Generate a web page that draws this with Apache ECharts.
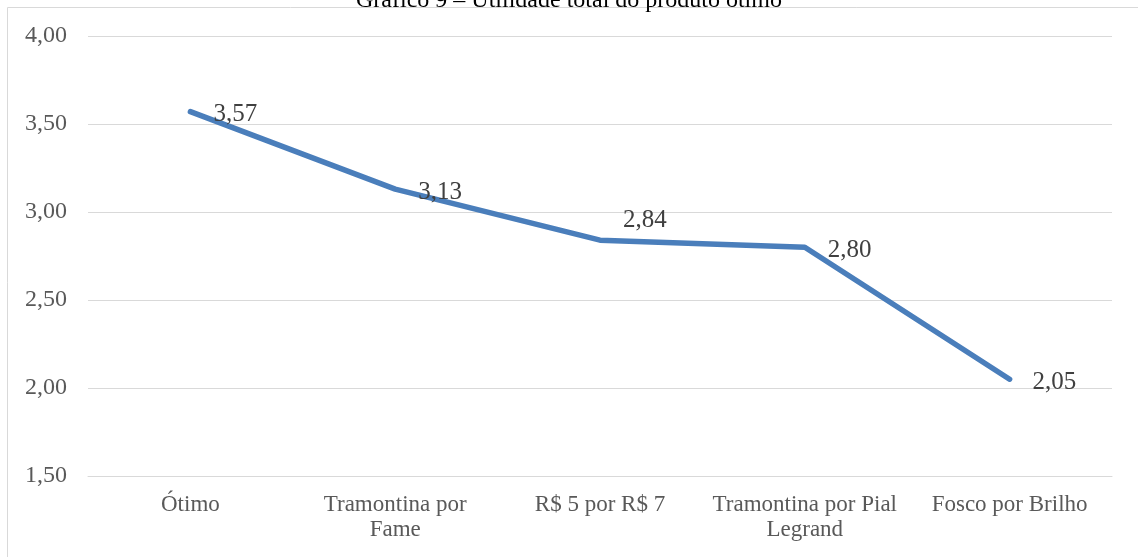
<!DOCTYPE html>
<html>
<head>
<meta charset="utf-8">
<script src="https://cdn.jsdelivr.net/npm/echarts@6/dist/echarts.min.js"></script>
<style>
html, body { margin: 0; padding: 0; background: #fff; }
#chart { width: 1138px; height: 557px; }
</style>
</head>
<body>
<div id="chart"></div>
<script>
// dados do gráfico
var categorias = ['Ótimo', 'Tramontina por\nFame', 'R$ 5 por R$ 7', 'Tramontina por Pial\nLegrand', 'Fosco por Brilho'];
var valores = [3.57, 3.13, 2.84, 2.80, 2.05];
var ticksY = [1.5, 2.0, 2.5, 3.0, 3.5, 4.0];

var fonte = 'Liberation Serif, Times New Roman, serif';

function virgula(v, casas) {
	return v.toFixed(casas).replace('.', ',');
}

var chart = echarts.init(document.getElementById('chart'));

var seriesData = valores.map(function(v, i) {
	var item = { value: v };
	// 2,84 fica acima da linha
	if (i === 2) {
		item.label = { offset: [0, -20] };
	}
	return item;
});

var option = {
	animation: false,
	title: {
		text: 'Gráfico 9 – Utilidade total do produto ótimo',
		left: 'center',
		top: -16,
		textStyle: {
			fontFamily: fonte,
			fontSize: 24,
			fontWeight: 'normal',
			color: '#000'
		}
	},
	graphic: [{
		type: 'rect',
		shape: { x: 7.5, y: 7.5, width: 1200, height: 600 },
		style: { fill: 'none', stroke: '#d9d9d9', lineWidth: 1 },
		z: -1
	}],
	grid: {
		left: 88,
		right: 26,
		top: 36,
		bottom: 81
	},
	xAxis: {
		type: 'category',
		data: categorias,
		boundaryGap: true,
		axisLine: { show: true, lineStyle: { color: '#d9d9d9', width: 1 } },
		axisTick: { show: false },
		axisLabel: {
			margin: 16,
			interval: 0,
			fontFamily: fonte,
			fontSize: 23,
			lineHeight: 25,
			color: '#595959'
		}
	},
	yAxis: {
		type: 'value',
		min: ticksY[0],
		max: ticksY[ticksY.length - 1],
		interval: 0.5,
		axisLine: { show: false },
		axisTick: { show: false },
		splitLine: { lineStyle: { color: '#d9d9d9', width: 1 } },
		axisLabel: {
			margin: 21,
			fontFamily: fonte,
			fontSize: 24,
			color: '#595959',
			formatter: function(v) { return virgula(v, 2); }
		}
	},
	series: [{
		type: 'line',
		data: seriesData,
		symbol: 'circle',
		symbolSize: 0,
		showSymbol: true,
		smooth: false,
		itemStyle: { color: '#4a7ebb' },
		lineStyle: { color: '#4a7ebb', width: 5.5, cap: 'round', join: 'round' },
		label: {
			show: true,
			position: 'right',
			distance: 23,
			offset: [0, 3],
			fontFamily: fonte,
			fontSize: 25,
			color: '#404040',
			formatter: function(p) { return virgula(p.value, 2); }
		}
	}]
};

chart.setOption(option);
</script>
</body>
</html>
